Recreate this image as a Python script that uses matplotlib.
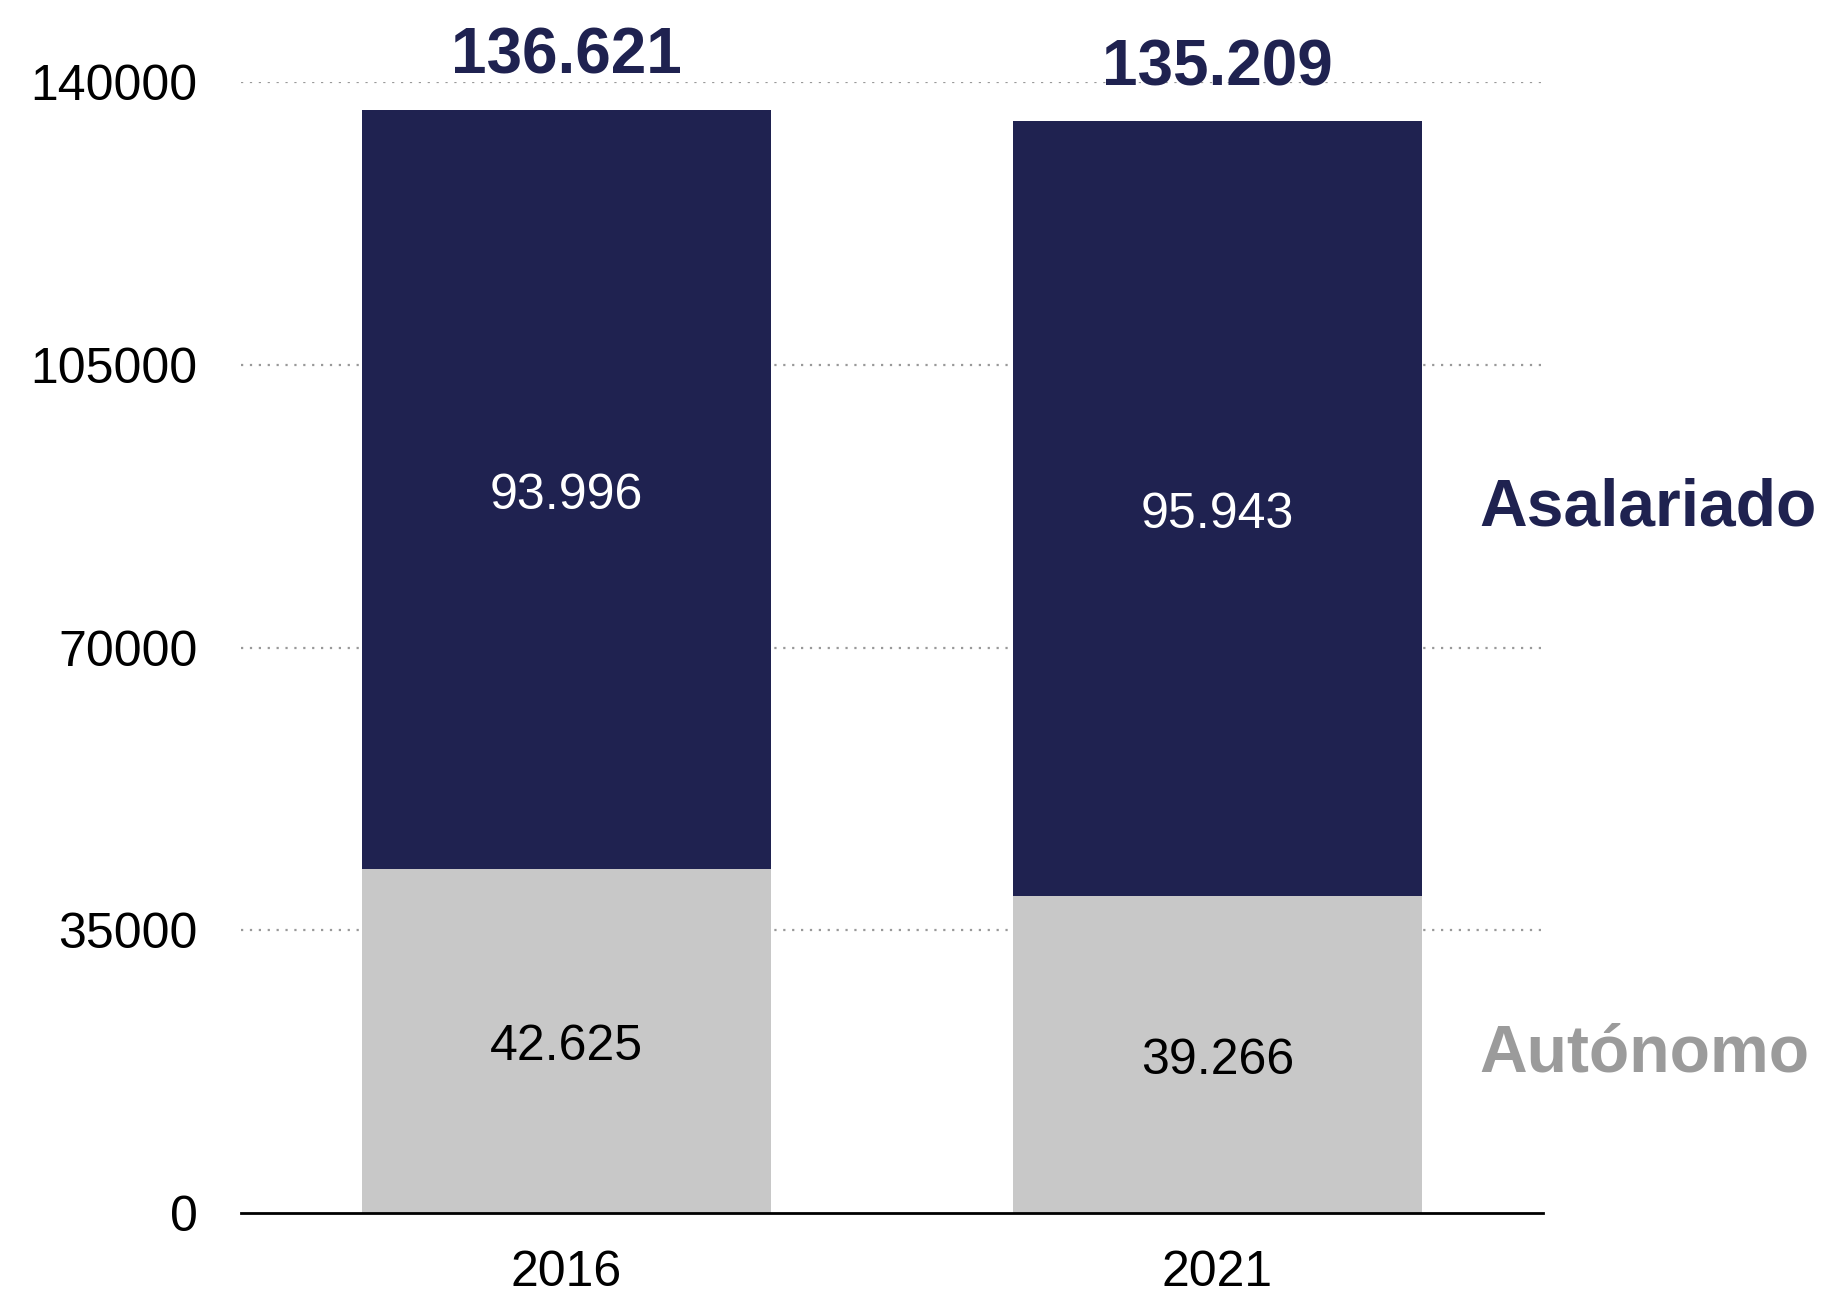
import matplotlib
matplotlib.use("Agg")
import matplotlib.pyplot as plt

years = ["2016", "2021"]
autonomo = [42625, 39266]
asalariado = [93996, 95943]
totals = [136621, 135209]
yticks = [0, 35000, 70000, 105000, 140000]

def fmt(v):
    return f"{v:,}".replace(",", ".")

NAVY = "#1F2250"
GRAY = "#C8C8C8"
LABEL_GRAY = "#9B9B9B"

plt.rcParams['font.family'] = ['Liberation Sans', 'DejaVu Sans']

fig = plt.figure(figsize=(18.23, 12.93), dpi=100)
ax = fig.add_axes([0.132, 0.0622, 0.7143, 0.874])

x = list(range(len(years)))
w = 0.628
ax.bar(x, autonomo, width=w, color=GRAY, zorder=2)
ax.bar(x, asalariado, width=w, bottom=autonomo, color=NAVY, zorder=2)

ax.set_xlim(-0.5, 1.5)
ax.set_ylim(0, 140000)
ax.set_yticks(yticks)
ax.set_yticklabels([str(t) for t in yticks], fontsize=36)
ax.set_xticks(x)
ax.set_xticklabels(years, fontsize=36)
ax.tick_params(axis='y', length=0, pad=31)
ax.tick_params(axis='x', length=0, pad=27)

for t in yticks[1:]:
    ax.axhline(t, color="#999999", linestyle=(0, (1, 3)), linewidth=1.6, zorder=1)

for s in ["top", "right", "left"]:
    ax.spines[s].set_visible(False)
ax.spines["bottom"].set_linewidth(2)
ax.spines["bottom"].set_color("black")
ax.spines["bottom"].set_zorder(3)

for i in x:
    ax.annotate(fmt(autonomo[i]), xy=(i, autonomo[i] / 2), xytext=(0, -5),
                textcoords='offset points', ha='center', va='center',
                fontsize=36, color='black', zorder=4)
    ax.annotate(fmt(asalariado[i]), xy=(i, autonomo[i] + asalariado[i] / 2), xytext=(0, -5),
                textcoords='offset points', ha='center', va='center',
                fontsize=36, color='white', zorder=4)
    ax.annotate(fmt(totals[i]), xy=(i, totals[i]), xytext=(0, 38), textcoords='offset points',
                ha='center', va='center', fontsize=46, fontweight='bold', color=NAVY,
                annotation_clip=False)

ax.text(1.403, autonomo[1] + asalariado[1] / 2, "Asalariado", ha='left', va='center',
        fontsize=47.5, fontweight='bold', color=NAVY, clip_on=False)
ax.text(1.403, autonomo[1] / 2, "Autónomo", ha='left', va='center',
        fontsize=47.5, fontweight='bold', color=LABEL_GRAY, clip_on=False)

fig.savefig("out.png", dpi=100)
